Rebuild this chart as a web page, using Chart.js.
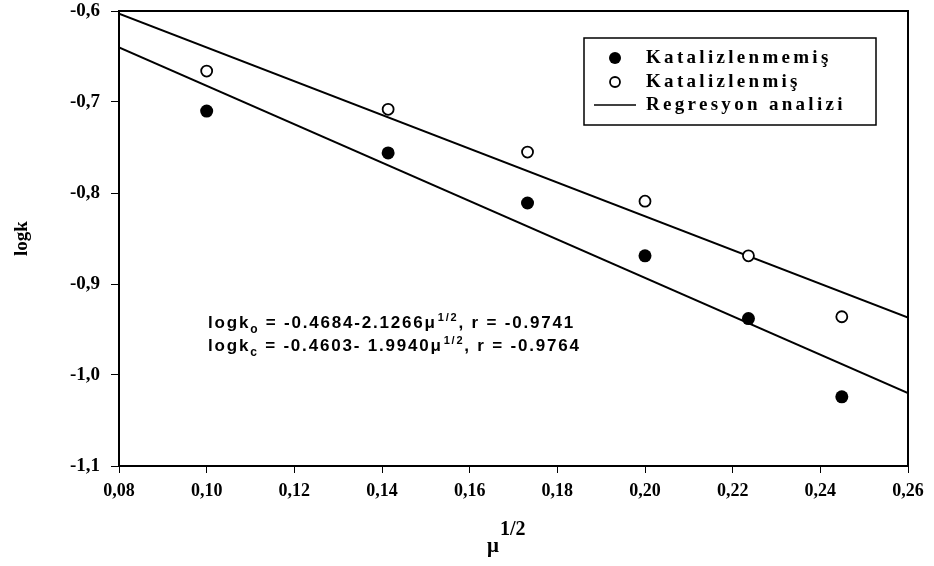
<!DOCTYPE html>
<html>
<head>
<meta charset="utf-8">
<script src="https://cdn.jsdelivr.net/npm/chart.js@4.4.0/dist/chart.umd.min.js"></script>
<style>
html, body { margin: 0; padding: 0; background: #fff; }
</style>
</head>
<body>
<canvas id="myChart" width="934" height="566"></canvas>
<script>
// values
const muRoot = [0.1, 0.1414, 0.1732, 0.2, 0.2236, 0.2449]
const logkUncat = [-0.710, -0.756, -0.811, -0.869, -0.938, -1.024]
const logkCat = [-0.666, -0.708, -0.755, -0.809, -0.869, -0.936]

// regression lines, ends at the axis limits
const lineX = [0.08, 0.26]
const fitUncat = [-0.640, -1.020]
const fitCat = [-0.603, -0.937]

const legendNames = ['Katalizlenmemiş', 'Katalizlenmiş', 'Regresyon analizi']
const eqUncat = ['logk', 'o', ' = -0.4684-2.1266\u03bc', '1/2', ', r = -0.9741']
const eqCat = ['logk', 'c', ' = -0.4603- 1.9940\u03bc', '1/2', ', r = -0.9764']

const serif = '"Liberation Serif", "Times New Roman", serif'
const sans = '"Liberation Sans", Arial, sans-serif'

const toPoints = (xs, ys) => xs.map((x, i) => ({x: x, y: ys[i]}))

// extra drawing: frame, axis titles, legend box, equations
const extras = {
  id: 'extras',
  afterDraw(chart) {
    const ctx = chart.ctx
    const a = chart.chartArea
    ctx.save()
    ctx.strokeStyle = '#000'
    ctx.lineWidth = 2
    ctx.strokeRect(a.left, a.top, a.right - a.left, a.bottom - a.top)

    ctx.fillStyle = '#000'
    // y title
    ctx.save()
    ctx.translate(22, (a.top + a.bottom) / 2)
    ctx.rotate(-Math.PI / 2)
    ctx.font = 'bold 19px ' + serif
    ctx.textAlign = 'center'
    ctx.textBaseline = 'middle'
    ctx.fillText('logk', 0, 0)
    ctx.restore()

    // x title mu^1/2
    ctx.textAlign = 'left'
    ctx.textBaseline = 'alphabetic'
    ctx.font = 'bold 21px ' + serif
    ctx.fillText('\u03bc', 487, 552)
    ctx.font = 'bold 20px ' + serif
    ctx.fillText('1/2', 500, 535)

    // legend
    const lx = 584, ly = 38, lw = 292, lh = 87
    ctx.lineWidth = 1.5
    ctx.fillStyle = '#fff'
    ctx.fillRect(lx, ly, lw, lh)
    ctx.strokeRect(lx, ly, lw, lh)
    const rows = [ly + 20, ly + 44, ly + 67]
    ctx.fillStyle = '#000'
    ctx.beginPath()
    ctx.arc(615, rows[0], 6, 0, Math.PI * 2)
    ctx.fill()
    ctx.beginPath()
    ctx.arc(615, rows[1], 5, 0, Math.PI * 2)
    ctx.fillStyle = '#fff'
    ctx.fill()
    ctx.lineWidth = 1.8
    ctx.stroke()
    ctx.beginPath()
    ctx.moveTo(594, rows[2])
    ctx.lineTo(636, rows[2])
    ctx.lineWidth = 1.5
    ctx.stroke()
    ctx.fillStyle = '#000'
    ctx.font = 'bold 19px ' + serif
    ctx.letterSpacing = '3.3px'
    ctx.textBaseline = 'middle'
    legendNames.forEach((t, i) => ctx.fillText(t, 646, rows[i]))
    ctx.letterSpacing = '0px'

    // equations
    ctx.textBaseline = 'alphabetic'
    const drawEq = (parts, x, y) => {
      ctx.font = 'bold 17px ' + sans
      ctx.fillText(parts[0], x, y)
      x += ctx.measureText(parts[0]).width
      ctx.font = 'bold 12px ' + sans
      ctx.fillText(parts[1], x, y + 5)
      x += ctx.measureText(parts[1]).width
      ctx.font = 'bold 17px ' + sans
      ctx.fillText(parts[2], x, y)
      x += ctx.measureText(parts[2]).width
      ctx.font = 'bold 11px ' + sans
      ctx.fillText(parts[3], x + 1, y - 7)
      x += ctx.measureText(parts[3]).width + 1
      ctx.font = 'bold 17px ' + sans
      ctx.fillText(parts[4], x, y)
    }
    ctx.letterSpacing = '1.8px'
    drawEq(eqUncat, 208, 328)
    drawEq(eqCat, 208, 351)
    ctx.restore()
  }
}

new Chart('myChart', {
  type: 'scatter',
  data: {
    datasets: [
      {
        label: legendNames[0],
        data: toPoints(muRoot, logkUncat),
        pointRadius: 6.5,
        pointBackgroundColor: '#000',
        pointBorderColor: '#000',
        pointBorderWidth: 0
      },
      {
        label: legendNames[1],
        data: toPoints(muRoot, logkCat),
        pointRadius: 5.5,
        pointBackgroundColor: '#fff',
        pointBorderColor: '#000',
        pointBorderWidth: 1.8
      },
      {
        label: legendNames[2],
        data: toPoints(lineX, fitUncat),
        showLine: true,
        borderColor: '#000',
        borderWidth: 2,
        pointRadius: 0
      },
      {
        label: legendNames[2],
        data: toPoints(lineX, fitCat),
        showLine: true,
        borderColor: '#000',
        borderWidth: 2,
        pointRadius: 0
      }
    ]
  },
  options: {
    responsive: false,
    animation: false,
    layout: {padding: {left: 0, right: 26, top: 11, bottom: 0}},
    plugins: {
      legend: {display: false},
      tooltip: {enabled: false}
    },
    scales: {
      x: {
        type: 'linear',
        min: 0.08,
        max: 0.26,
        afterFit: s => { s.height = 100 },
        ticks: {
          stepSize: 0.02,
          color: '#000',
          padding: 8,
          font: {family: serif, size: 18, weight: 'bold'},
          callback: v => v.toFixed(2).replace('.', ',')
        },
        grid: {drawOnChartArea: false, color: '#000', tickLength: 7},
        border: {color: '#000', width: 2}
      },
      y: {
        type: 'linear',
        min: -1.1,
        max: -0.6,
        afterFit: s => {
          s.width = 119
          s.paddingTop = 0
          s.paddingBottom = 0
        },
        ticks: {
          stepSize: 0.1,
          color: '#000',
          padding: 11,
          font: {family: serif, size: 19, weight: 'bold'},
          callback: v => v.toFixed(1).replace('.', ',')
        },
        grid: {drawOnChartArea: false, color: '#000', tickLength: 8},
        border: {color: '#000', width: 2}
      }
    }
  },
  plugins: [extras]
})
</script>
</body>
</html>
